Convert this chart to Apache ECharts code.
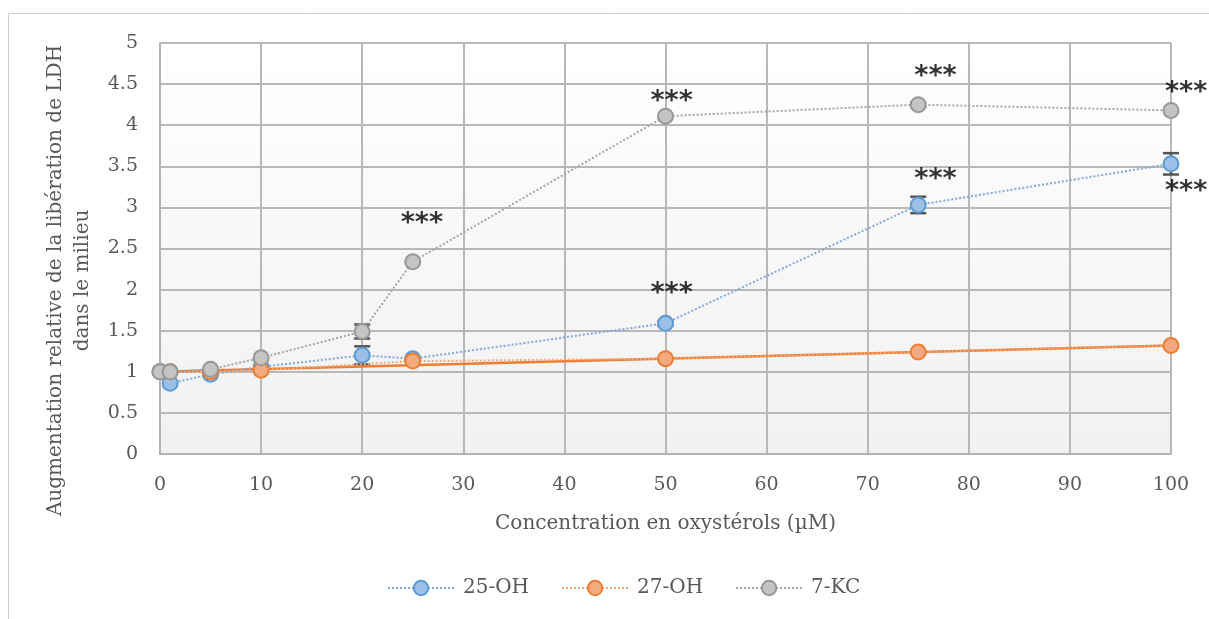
<!DOCTYPE html>
<html><head><meta charset="utf-8">
<script src="https://cdn.jsdelivr.net/npm/echarts@6/dist/echarts.min.js"></script>
<style>html,body{margin:0;padding:0;background:#fff}#c{width:1209px;height:619px}</style>
</head><body><div id="c"></div>
<script>
var concentrations = [0, 1, 5, 10, 20, 25, 50, 75, 100];
var oh25 = [1.0, 0.86, 0.97, 1.06, 1.20, 1.16, 1.59, 3.03, 3.53];
var oh27 = [1.0, 1.0, 1.0, 1.02, null, 1.13, 1.16, 1.24, 1.32];
var kc7  = [1.0, 1.0, 1.03, 1.17, 1.49, 2.34, 4.11, 4.25, 4.18];
var oh27Trend = [[0, 1.0], [100, 1.32]];
var errBars = [[20, 1.49, 0.085], [20, 1.20, 0.11], [50, 1.59, 0.03], [75, 3.03, 0.10], [100, 3.53, 0.13], [75, 4.25, 0.03]];
var stars = [[25.9, 2.90], [50.6, 4.38], [76.7, 4.68], [101.5, 4.49], [50.6, 2.04], [76.7, 3.43], [101.5, 3.28]];
var yTitle = 'Augmentation relative de la libération de LDH\ndans le milieu';
var xTitle = 'Concentration en oxystérols (µM)';

function pairs(arr) { return concentrations.map(function (x, i) { return [x, arr[i]]; }); }
var FONT = 'DejaVu Serif';
var chart = echarts.init(document.getElementById('c'));
function lineSeries(name, data, lineColor, fill, border) {
  return {
    name: name, type: 'line', data: pairs(data), connectNulls: true,
    symbol: 'circle', symbolSize: 15,
    lineStyle: { color: lineColor, width: 2, type: [2, 2] },
    itemStyle: { color: fill, borderColor: border, borderWidth: 2 },
    emphasis: { disabled: true }, z: 3
  };
}
chart.setOption({
  animation: false,
  textStyle: { fontFamily: FONT },
  graphic: [{ type: 'rect', shape: { x: 8.5, y: 13.5, width: 1220, height: 620 }, style: { fill: null, stroke: '#d0d0d0', lineWidth: 1 }, silent: true, z: -10 }],
  grid: { left: 160, right: 38, top: 43, bottom: 165, show: true, borderWidth: 0, outerBoundsMode: 'none', containLabel: false,
    backgroundColor: new echarts.graphic.LinearGradient(0, 0, 0, 1, [{ offset: 0, color: '#ffffff' }, { offset: 1, color: '#f1f1f1' }]) },
  legend: {
    bottom: 16, left: 382, itemWidth: 66, itemHeight: 18, itemGap: 32,
    data: ['25-OH', '27-OH', '7-KC'],
    textStyle: { color: '#595959', fontSize: 20, fontFamily: FONT, padding: [0, 0, 0, 4] }
  },
  xAxis: {
    type: 'value', min: 0, max: 100, interval: 10,
    name: xTitle, nameLocation: 'middle', nameGap: 60,
    nameTextStyle: { color: '#595959', fontSize: 20, fontFamily: FONT },
    axisLine: { show: true, lineStyle: { color: '#b3b3b3', width: 2 } },
    axisTick: { show: false },
    axisLabel: { color: '#595959', fontSize: 19, margin: 22, fontFamily: FONT },
    splitLine: { show: true, lineStyle: { color: '#b8b8b8', width: 2 } }
  },
  yAxis: {
    type: 'value', min: 0, max: 5, interval: 0.5,
    name: yTitle, nameLocation: 'middle', nameGap: 64,
    nameTextStyle: { color: '#595959', fontSize: 20, fontFamily: FONT, lineHeight: 27, padding: [0, 64, 0, 0] },
    axisLine: { show: true, lineStyle: { color: '#b3b3b3', width: 2 } },
    axisTick: { show: false },
    axisLabel: { color: '#595959', fontSize: 19, margin: 22, fontFamily: FONT },
    splitLine: { show: true, lineStyle: { color: '#b8b8b8', width: 2 } }
  },
  series: [
    { name: 'trend27', type: 'line', data: oh27Trend, symbol: 'none', lineStyle: { color: '#ed7d31', width: 2.5 }, z: 2, silent: true },
    lineSeries('25-OH', oh25, '#7fa9dc', '#9bbfe6', '#5b9bd5'),
    lineSeries('27-OH', oh27, '#f4a77a', '#f4aa80', '#ed7d31'),
    lineSeries('7-KC', kc7, '#a5a5a5', '#c4c4c4', '#979797'),
    {
      name: 'err', type: 'custom', data: errBars, z: 2, silent: true,
      renderItem: function (params, api) {
        var x = api.value(0), y = api.value(1), e = api.value(2);
        var hi = api.coord([x, y + e]), lo = api.coord([x, y - e]);
        var w = 8, st = { stroke: '#555', lineWidth: 2.5 };
        return { type: 'group', children: [
          { type: 'line', shape: { x1: hi[0], y1: hi[1], x2: lo[0], y2: lo[1] }, style: st },
          { type: 'line', shape: { x1: hi[0] - w, y1: hi[1], x2: hi[0] + w, y2: hi[1] }, style: st },
          { type: 'line', shape: { x1: lo[0] - w, y1: lo[1], x2: lo[0] + w, y2: lo[1] }, style: st }
        ] };
      }
    },
    {
      name: 'stars', type: 'scatter', data: stars, symbolSize: 1, clip: false, itemStyle: { color: 'rgba(0,0,0,0)' }, silent: true, z: 5,
      label: { show: true, position: 'inside', formatter: '***', color: '#000', fontSize: 27, fontWeight: 'bold', fontFamily: 'DejaVu Sans', offset: [0, 8] }
    }
  ]
});
</script></body></html>
